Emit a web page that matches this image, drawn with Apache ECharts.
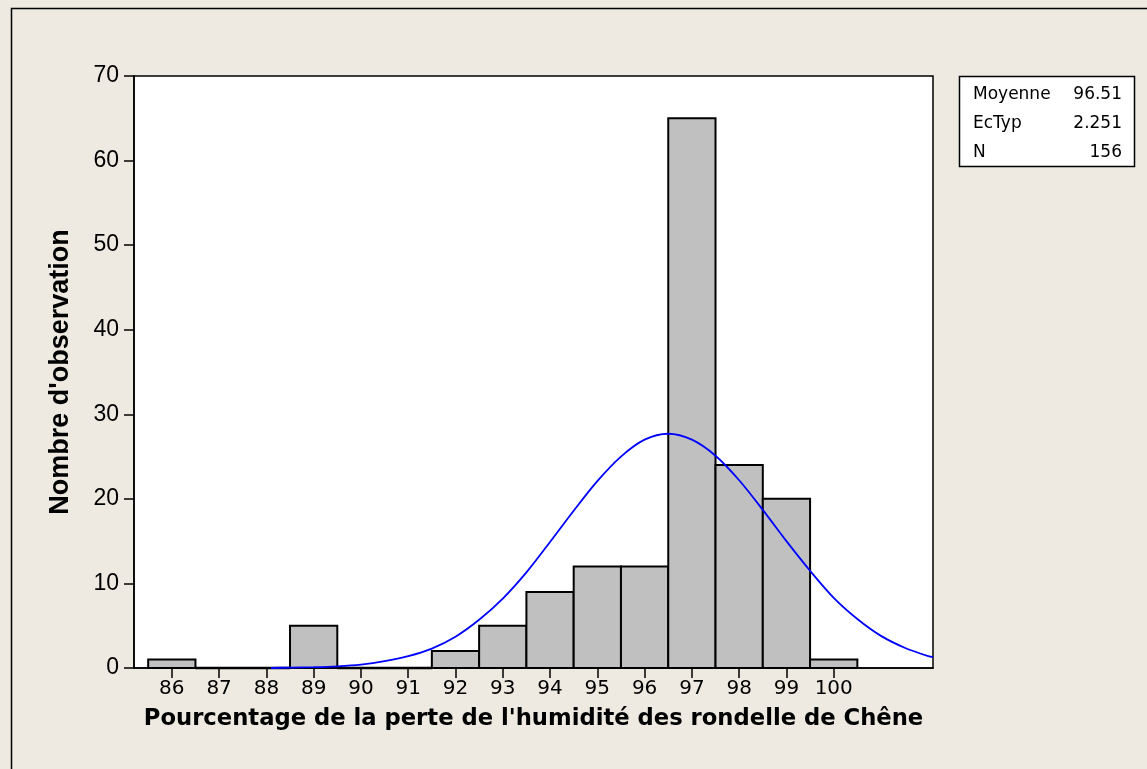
<!DOCTYPE html>
<html>
<head>
<meta charset="utf-8">
<script src="https://cdn.jsdelivr.net/npm/echarts/dist/echarts.min.js"></script>
<style>
html,body{margin:0;padding:0;background:#EEEAE1;}
#chart{width:1147px;height:769px;}
</style>
</head>
<body>
<div id="chart"></div>
<script>
// Histogram bins (midpoints) and counts
const binMids = [86, 87, 88, 89, 90, 91, 92, 93, 94, 95, 96, 97, 98, 99, 100];
const binCounts = [1, 0, 0, 5, 0, 0, 2, 5, 9, 12, 12, 65, 24, 20, 1];
// Fitted normal curve
const curveX = [88.1, 88.5, 89, 89.5, 90, 90.5, 91, 91.5, 92, 92.5, 93, 93.5, 94, 94.5, 95, 95.5, 96, 96.5, 97, 97.5, 98, 98.5, 99, 99.5, 100, 100.5, 101, 101.5, 102, 102.1];
const curveY = [0.0, 0.05, 0.1, 0.2, 0.4, 0.8, 1.4, 2.3, 3.7, 5.7, 8.2, 11.3, 14.9, 18.6, 22.1, 25.0, 27.0, 27.7, 27.0, 25.1, 22.2, 18.7, 15.0, 11.5, 8.3, 5.8, 3.8, 2.4, 1.4, 1.3];
// Axis ticks
const xTicks = [86, 87, 88, 89, 90, 91, 92, 93, 94, 95, 96, 97, 98, 99, 100];
const xRange = [85.2, 102.1];
const yRange = [0, 70];
const yStep = 10;
// Texts
const xTitle = "Pourcentage de la perte de l'humidité des rondelle de Chêne";
const yTitle = "Nombre d'observation";
const statLabels = ["Moyenne", "EcTyp", "N"];
const statValues = ["96.51", "2.251", "156"];

const chart = echarts.init(document.getElementById('chart'));

const barData = binMids.map((m, i) => [m, binCounts[i]]);
const curveData = curveX.map((x, i) => [x, curveY[i]]);

const statGraphics = [];
const rowY = [95, 124, 153];
statLabels.forEach((lab, i) => {
  statGraphics.push({
    type: 'text', z: 100,
    style: { text: lab, x: 973, y: rowY[i], fill: '#000', font: '17px "DejaVu Sans"',
      textAlign: 'left', textVerticalAlign: 'middle', align: 'left', verticalAlign: 'middle' }
  });
  statGraphics.push({
    type: 'text', z: 100,
    style: { text: statValues[i], x: 1122, y: rowY[i], fill: '#000', font: '17px "DejaVu Sans"',
      textAlign: 'right', textVerticalAlign: 'middle', align: 'right', verticalAlign: 'middle' }
  });
});

const option = {
  backgroundColor: '#EEEAE1',
  animation: false,
  grid: {
    left: 134, right: 214, top: 76, bottom: 101,
    show: true, backgroundColor: '#FFFFFF', borderColor: '#000', borderWidth: 1.5
  },
  xAxis: {
    type: 'value', min: xRange[0], max: xRange[1],
    splitLine: { show: false },
    axisLine: { show: true, onZero: false, lineStyle: { color: '#000', width: 1.5 } },
    axisTick: { show: true, inside: false, length: 10, customValues: xTicks, lineStyle: { color: '#000', width: 1.5 } },
    axisLabel: { customValues: xTicks, margin: 11, color: '#000', fontSize: 20, fontFamily: 'DejaVu Sans' },
    name: xTitle, nameLocation: 'middle', nameGap: 40,
    nameTextStyle: { color: '#000', fontSize: 22.7, fontWeight: 'bold', fontFamily: 'DejaVu Sans' }
  },
  yAxis: {
    type: 'value', min: yRange[0], max: yRange[1], interval: yStep,
    splitLine: { show: false },
    axisLine: { show: true, lineStyle: { color: '#000', width: 1.5 } },
    axisTick: { show: true, inside: false, length: 10, lineStyle: { color: '#000', width: 1.5 } },
    axisLabel: { margin: 15, color: '#000', fontSize: 23, fontFamily: 'Liberation Sans' },
    name: yTitle, nameLocation: 'middle', nameGap: 60,
    nameTextStyle: { color: '#000', fontSize: 27, fontWeight: 'bold', fontFamily: 'Liberation Sans' }
  },
  series: [
    {
      type: 'custom',
      data: barData,
      z: 2,
      renderItem: function (params, api) {
        const mid = api.value(0), cnt = api.value(1);
        const p0 = api.coord([mid - 0.5, cnt]);
        const p1 = api.coord([mid + 0.5, 0]);
        if (cnt === 0) {
          return {
            type: 'line',
            shape: { x1: p0[0], y1: p1[1], x2: p1[0], y2: p1[1] },
            style: { stroke: '#000', lineWidth: 2.5 }
          };
        }
        return {
          type: 'rect',
          shape: { x: p0[0], y: p0[1], width: p1[0] - p0[0], height: p1[1] - p0[1] },
          style: { fill: '#C0C0C0', stroke: '#000', lineWidth: 2 }
        };
      }
    },
    {
      type: 'line',
      data: curveData,
      z: 5,
      smooth: 0.3,
      showSymbol: false,
      symbol: 'none',
      clip: true,
      lineStyle: { color: '#0000FF', width: 1.8 }
    }
  ],
  graphic: [
    { type: 'rect', z: 100, shape: { x: 11.5, y: 8.5, width: 1200, height: 800 },
      style: { fill: 'none', stroke: '#000', lineWidth: 1.5 } },
    { type: 'rect', z: 100, shape: { x: 959.5, y: 76.5, width: 175, height: 90 },
      style: { fill: '#FFFFFF', stroke: '#000', lineWidth: 1.5 } }
  ].concat(statGraphics)
};
chart.setOption(option);
</script>
</body>
</html>
